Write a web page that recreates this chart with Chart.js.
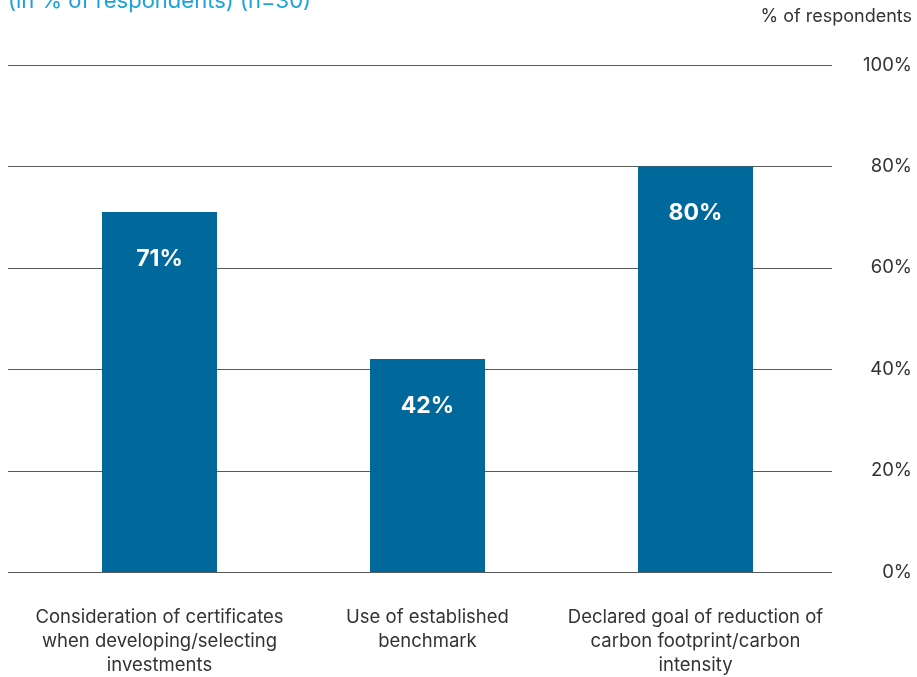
<!DOCTYPE html>
<html>
<head>
<meta charset="utf-8">
<script src="https://cdn.jsdelivr.net/npm/chart.js@4"></script>
<style>
html,body{margin:0;padding:0;background:#fff;}
#wrap{width:917px;height:677px;position:relative;}
</style>
</head>
<body>
<div id="wrap"><canvas id="c" width="917" height="677"></canvas></div>
<script>
const categories = [
  ["Consideration of certificates", "when developing/selecting", "investments"],
  ["Use of established", "benchmark"],
  ["Declared goal of reduction of", "carbon footprint/carbon", "intensity"]
];
const values = [71, 42, 80];
const yTicks = [0, 20, 40, 60, 80, 100];
const title = "(in % of respondents) (n=30)";
const axisTitle = "% of respondents";

const FONT = "Inter, 'Noto Sans', sans-serif";
const BAR = "#00689a";

const overlay = {
  id: 'overlay',
  beforeDatasetsDraw(chart) {
    const ctx = chart.ctx, y = chart.scales.y;
    ctx.save();
    ctx.strokeStyle = "#5a5a5a";
    ctx.lineWidth = 1;
    yTicks.forEach(v => {
      const py = Math.round(y.getPixelForValue(v)) + 0.5;
      ctx.beginPath(); ctx.moveTo(8, py); ctx.lineTo(832, py); ctx.stroke();
    });
    ctx.restore();
  },
  afterDatasetsDraw(chart) {
    const ctx = chart.ctx;
    const meta = chart.getDatasetMeta(0);
    ctx.save();
    ctx.fillStyle = "#ffffff";
    ctx.font = "bold 23px " + FONT;
    ctx.textAlign = "center";
    ctx.textBaseline = "middle";
    meta.data.forEach((bar, i) => {
      ctx.fillText(values[i] + "%", bar.x, bar.y + 47);
    });
    ctx.restore();
  },
  afterDraw(chart) {
    const ctx = chart.ctx;
    ctx.save();
    ctx.fillStyle = "#1ba2db";
    ctx.font = "22px " + FONT;
    ctx.textAlign = "left";
    ctx.textBaseline = "alphabetic";
    ctx.fillText(title, 8, 8);
    ctx.fillStyle = "#333333";
    ctx.font = "18px " + FONT;
    ctx.textAlign = "right";
    ctx.textBaseline = "middle";
    ctx.fillText(axisTitle, 912, 17);
    ctx.restore();
  }
};

new Chart(document.getElementById('c'), {
  type: 'bar',
  data: {
    labels: categories,
    datasets: [{ data: values, backgroundColor: BAR, barPercentage: 1, categoryPercentage: 0.429 }]
  },
  options: {
    responsive: false,
    animation: false,
    layout: { padding: { top: 65, left: 25.5, right: 5, bottom: 0 } },
    plugins: { legend: { display: false }, tooltip: { enabled: false } },
    scales: {
      x: {
        grid: { display: false },
        border: { display: false },
        ticks: { color: "#333", font: { family: FONT, size: 18.5, lineHeight: 24 / 18.5 }, padding: 25, maxRotation: 0, autoSkip: false },
        afterFit(s) { s.height = 105; s.paddingLeft = 0; s.paddingRight = 0; }
      },
      y: {
        position: 'right',
        min: 0, max: 100,
        grid: { display: false },
        border: { display: false },
        ticks: {
          stepSize: 20, color: "#333", crossAlign: 'far', padding: 33,
          font: { family: FONT, size: 18.5 },
          callback: v => v + "%"
        },
        afterFit(s) { s.width = 82.5; }
      }
    }
  },
  plugins: [overlay]
});
</script>
</body>
</html>
